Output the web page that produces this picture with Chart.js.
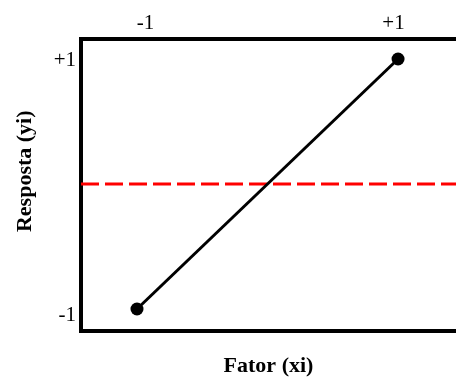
<!DOCTYPE html>
<html>
<head>
<meta charset="utf-8">
<script src="https://cdn.jsdelivr.net/npm/chart.js@4"></script>
<style>
  body { margin: 0; background: #fff; }
  #wrap { width: 456px; height: 380px; }
</style>
</head>
<body>
<div id="wrap"><canvas id="effectChart" width="456" height="380"></canvas></div>
<script>
// factor levels and the response at each level
const factorLevels = [-1, 1];
const responses = [-1, 1];
// mean response (dashed reference line)
const meanResponse = 0;
// tick labels
const xTickValues = [-1, 1];
const xTickLabels = ["-1", "+1"];
const yTickValues = [-1, 1];
const yTickLabels = ["-1", "+1"];

const serif = "'Liberation Serif', 'Times New Roman', serif";

// scale ranges (data axes and the label axes, which sit slightly offset in the picture)
const xRange = { min: -1.429, max: 1.444 };
const yRange = { min: -1.176, max: 1.16 };

function fixedSize(size, prop) {
    return function(scale) { scale[prop] = size; };
}

function tickLabeler(values, labels) {
    return function(value) {
        const i = values.indexOf(value);
        return i >= 0 ? labels[i] : "";
    };
}

const ctx = document.getElementById("effectChart").getContext("2d");
window.effectChart = new Chart(ctx, {
    type: "line",
    data: {
        datasets: [
            {
                label: "Resposta",
                data: factorLevels.map((x, i) => ({ x: x, y: responses[i] })),
                borderColor: "#000",
                backgroundColor: "#000",
                borderWidth: 3,
                pointRadius: 6.5,
                pointBackgroundColor: "#000",
                pointBorderWidth: 0,
                xAxisID: "x",
                yAxisID: "y"
            },
            {
                label: "Média",
                data: [{ x: xRange.min, y: meanResponse }, { x: xRange.max, y: meanResponse }],
                borderColor: "#ff0000",
                borderWidth: 3,
                borderDash: [18, 6],
                pointRadius: 0,
                xAxisID: "x",
                yAxisID: "y"
            }
        ]
    },
    options: {
        responsive: false,
        animation: false,
        events: [],
        layout: { padding: 0, autoPadding: false },
        plugins: {
            legend: { display: false },
            tooltip: { enabled: false }
        },
        scales: {
            x: {
                type: "linear",
                position: "bottom",
                min: xRange.min,
                max: xRange.max,
                grid: { display: false, drawTicks: false },
                border: { display: true, color: "#000", width: 4 },
                ticks: { display: false },
                title: {
                    display: true,
                    text: "Fator (xi)",
                    color: "#000",
                    font: { family: serif, size: 22, weight: "bold" },
                    padding: { top: 0, bottom: 0 }
                },
                afterFit: fixedSize(49, "height")
            },
            xTop: {
                type: "linear",
                position: "top",
                min: -1.52,
                max: 1.504,
                grid: { display: false, drawTicks: false },
                border: { display: true, color: "#000", width: 4 },
                afterBuildTicks: function(scale) {
                    scale.ticks = xTickValues.map(v => ({ value: v }));
                },
                ticks: {
                    color: "#000",
                    padding: 3,
                    maxRotation: 0,
                    font: { family: serif, size: 21 },
                    callback: tickLabeler(xTickValues, xTickLabels)
                },
                afterFit: fixedSize(39, "height")
            },
            y: {
                type: "linear",
                display: false,
                min: yRange.min,
                max: yRange.max
            },
            yLeft: {
                type: "linear",
                position: "left",
                min: -1.125,
                max: 1.165,
                grid: { display: false, drawTicks: false },
                border: { display: true, color: "#000", width: 4 },
                afterBuildTicks: function(scale) {
                    scale.ticks = yTickValues.map(v => ({ value: v }));
                },
                ticks: {
                    color: "#000",
                    padding: 5,
                    font: { family: serif, size: 21 },
                    callback: tickLabeler(yTickValues, yTickLabels)
                },
                title: {
                    display: true,
                    text: "     Resposta (yi)",
                    color: "#000",
                    font: { family: serif, size: 22, weight: "bold" },
                    padding: { top: 12, bottom: 0 }
                },
                afterFit: fixedSize(81, "width")
            }
        }
    }
});
</script>
</body>
</html>
